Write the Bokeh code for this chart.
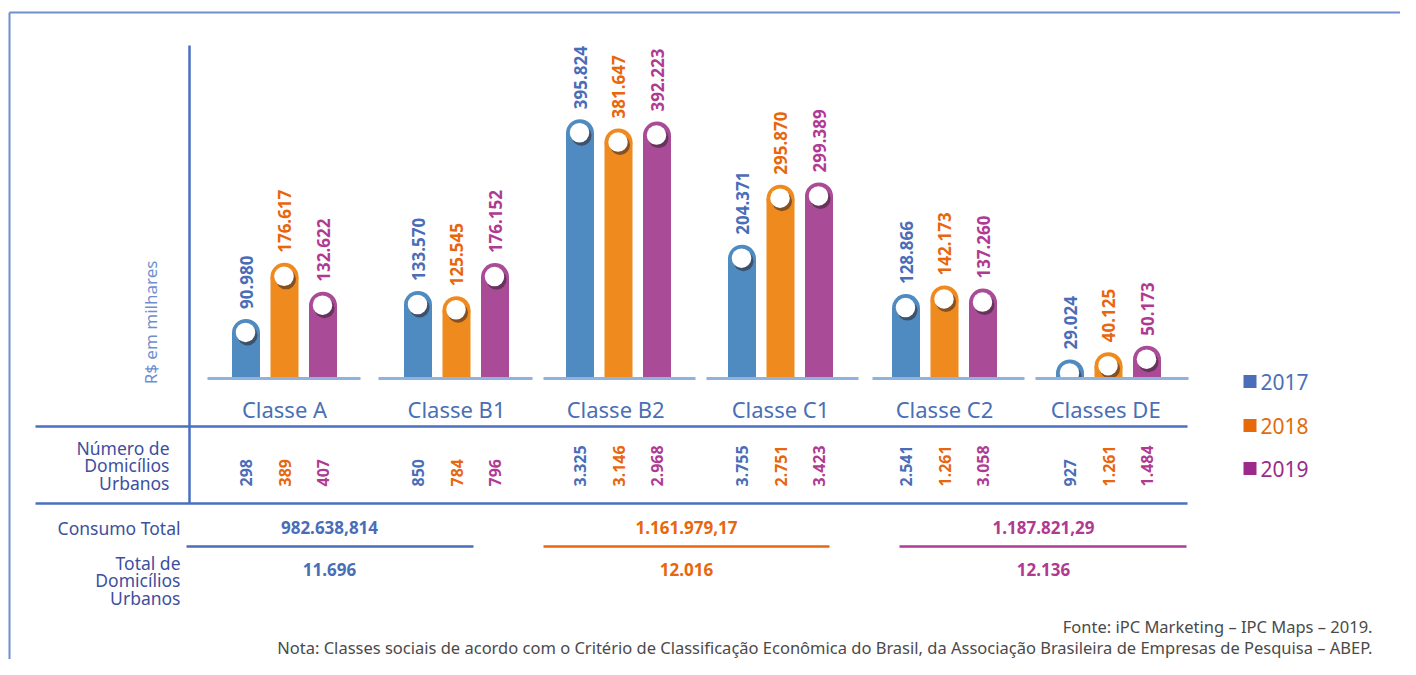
import numpy as np
from bokeh.plotting import figure
from bokeh.models import Range1d
from bokeh.core.properties import value
from bokeh.embed import file_html
from bokeh.resources import INLINE

# ---------------- data ----------------
categories = ["Classe A", "Classe B1", "Classe  B2", "Classe C1", "Classe C2", "Classes  DE"]
years = ["2017", "2018", "2019"]
consumo_2017 = [90.980, 133.570, 395.824, 204.371, 128.866, 29.024]
consumo_2018 = [176.617, 125.545, 381.647, 295.870, 142.173, 40.125]
consumo_2019 = [132.622, 176.152, 392.223, 299.389, 137.260, 50.173]
domicilios_2017 = ["298", "850", "3.325", "3.755", "2.541", "927"]
domicilios_2018 = ["389", "784", "3.146", "2.751", "1.261", "1.261"]
domicilios_2019 = ["407", "796", "2.968", "3.423", "3.058", "1.484"]
consumo_total = ["982.638,814", "1.161.979,17", "1.187.821,29"]
total_domicilios = ["11.696", "12.016", "12.136"]

# ---------------- style / layout ----------------
FONT = "Noto Sans"
W, H = 1400, 659
X0, Y0 = 0, 0          # screen offset of the canvas
SCALE = 0.655          # px per R$ mil
BASE = 378             # screen y of bar baseline
CAP = 14               # cap radius in px
bar_colors = ["#4f8bc0", "#ef8a1e", "#a94b97"]
label_colors = ["#4a6db8", "#e8660c", "#b03a92"]
legend_colors = ["#4a6fb8", "#e66a0a", "#9b2a8a"]
dark_blue = "#4a6fc0"
group_x = np.array([284, 456, 618, 780, 944, 1108])
offsets = [-38.5, 0, 38.5]

p = figure(width=W, height=H, x_range=Range1d(X0, X0 + W), y_range=Range1d(Y0 + H, Y0),
           output_backend="svg", toolbar_location=None,
           x_axis_location=None, y_axis_location=None,
           min_border=0, outline_line_color=None, background_fill_color="white")
p.extra_y_ranges = {"val": Range1d(start=(BASE - (Y0 + H)) / SCALE, end=(BASE - Y0) / SCALE)}
p.grid.visible = False

# frame
p.segment(x0=[9, 9], y0=[12, 12], x1=[X0 + W, 9], y1=[12, Y0 + H], line_color="#6f8fd0", line_width=2)

series = [consumo_2017, consumo_2018, consumo_2019]
r_v = CAP / SCALE
for i, vals in enumerate(series):
    vals = np.array(vals)
    xs = group_x + offsets[i]
    centers = vals - r_v
    p.vbar(x=xs, bottom=0, top=np.maximum(centers, 0), width=28, y_range_name="val",
           fill_color=bar_colors[i], line_color=None)
    p.scatter(x=xs, y=centers, size=2 * CAP, marker="circle", y_range_name="val",
              fill_color=bar_colors[i], line_color=None)
    p.scatter(x=xs + 1.5, y=centers - 2.5 / SCALE, size=20, marker="circle", y_range_name="val",
              fill_color="#2e2228", fill_alpha=0.55, line_color=None)
    p.scatter(x=xs - 0.5, y=centers + 0.5 / SCALE, size=19.5, marker="circle", y_range_name="val",
              fill_color="white", line_color=None)
    p.text(x=xs, y=vals + 10 / SCALE, text=[f"{v:.3f}" for v in vals], angle=np.pi / 2,
           text_align="left", text_baseline="middle", y_range_name="val",
           text_font=value(FONT), text_font_style="bold", text_font_size="17px",
           text_color=label_colors[i])

# mask below baseline (clips caps of very short bars)
p.quad(left=195, right=1200, top=379.5, bottom=395, fill_color="white", line_color=None)

# baselines per group
p.segment(x0=[207, 378, 543, 706, 872, 1035], x1=[360, 532, 695, 858, 1024, 1188],
          y0=378, y1=378, line_color="#8fb2de", line_width=3)

# category labels
p.text(x=group_x, y=408, text=categories, text_align="center", text_baseline="middle",
       text_font=value(FONT), text_font_size="22px", text_color="#4a6fb5")

# y axis line & label
p.segment(x0=[189], y0=[45], x1=[189], y1=[503], line_color=dark_blue, line_width=2.5)
p.text(x=[150], y=[322], text=["R$ em milhares"], angle=np.pi / 2, text_align="center",
       text_baseline="middle", text_font=value(FONT), text_font_size="17px", text_color="#6d8fd0")

# table lines
p.segment(x0=[35, 35], y0=[426, 503], x1=[1187, 1187], y1=[426, 503], line_color=dark_blue, line_width=2.5)

# row: numero de domicilios
row_lab = "#3d4f9e"
for j, t in enumerate(["Número de", "Domicílios", "Urbanos"]):
    p.text(x=[169], y=[447 + 17.5 * j], text=[t], text_align="right", text_baseline="middle",
           text_font=value(FONT), text_font_size="17.5px", text_color=row_lab)
for i, dom in enumerate([domicilios_2017, domicilios_2018, domicilios_2019]):
    p.text(x=group_x + offsets[i], y=486, text=dom, angle=np.pi / 2, text_align="left",
           text_baseline="middle", text_font=value(FONT), text_font_style="bold",
           text_font_size="16px", text_color=label_colors[i])

# consumo total / total de domicilios
p.text(x=[180], y=[527], text=["Consumo Total"], text_align="right", text_baseline="middle",
       text_font=value(FONT), text_font_size="17.5px", text_color=row_lab)
for j, t in enumerate(["Total de", "Domicílios", "Urbanos"]):
    p.text(x=[180], y=[562 + 17.5 * j], text=[t], text_align="right", text_baseline="middle",
           text_font=value(FONT), text_font_size="17.5px", text_color=row_lab)

tot_x = [329, 686, 1043]
p.text(x=tot_x, y=527, text=consumo_total, text_align="center", text_baseline="middle",
       text_font=value(FONT), text_font_style="bold", text_font_size="17px",
       text_color=label_colors)
p.segment(x0=[186, 543, 899], x1=[473, 829, 1186], y0=546, y1=546,
          line_color=label_colors, line_width=2.5)
p.text(x=tot_x, y=569, text=total_domicilios, text_align="center", text_baseline="middle",
       text_font=value(FONT), text_font_style="bold", text_font_size="17px",
       text_color=label_colors)

# legend
leg_y = [381, 425, 468]
p.scatter(x=[1249.5] * 3, y=leg_y, marker="square", size=13, fill_color=legend_colors, line_color=None)
p.text(x=[1260] * 3, y=leg_y, text=years, text_align="left", text_baseline="middle",
       text_font=value(FONT), text_font_size="21px", text_color=legend_colors)

# notes
p.text(x=[1372, 1372], y=[626, 647],
       text=["Fonte: iPC Marketing – IPC Maps – 2019.",
             "Nota: Classes sociais de acordo com o Critério de Classificação Econômica do Brasil, da Associação Brasileira de Empresas de Pesquisa – ABEP."],
       text_align="right", text_baseline="middle", text_font=value(FONT),
       text_font_size="16.5px", text_color="#4a4a4a")

open("out.html", "w").write(file_html(p, INLINE))
